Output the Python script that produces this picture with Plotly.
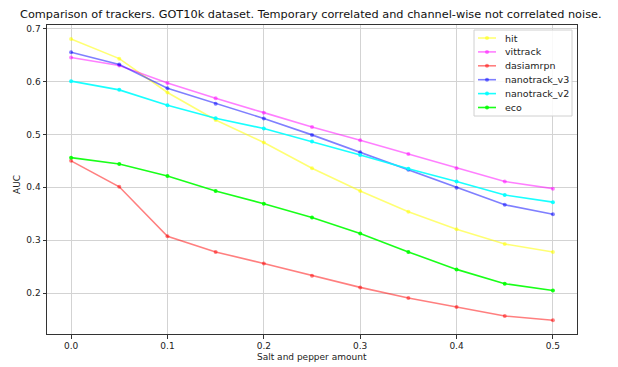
import plotly.graph_objects as go

x_vals = [0.0, 0.05, 0.1, 0.15, 0.2, 0.25, 0.3, 0.35, 0.4, 0.45, 0.5]

hit = [0.680, 0.643, 0.579, 0.527, 0.4845, 0.436, 0.393, 0.354, 0.321, 0.293, 0.278]
vittrack = [0.645, 0.630, 0.597, 0.568, 0.541, 0.514, 0.489, 0.463, 0.436, 0.411, 0.3975]
dasiamrpn = [0.450, 0.401, 0.3075, 0.278, 0.256, 0.233, 0.211, 0.191, 0.174, 0.157, 0.149]
nanotrack_v3 = [0.655, 0.632, 0.587, 0.558, 0.530, 0.499, 0.466, 0.433, 0.399, 0.367, 0.349]
nanotrack_v2 = [0.6005, 0.584, 0.555, 0.5305, 0.511, 0.4865, 0.461, 0.435, 0.411, 0.3855, 0.372]
eco = [0.456, 0.444, 0.4215, 0.393, 0.369, 0.343, 0.313, 0.278, 0.245, 0.218, 0.205]

series = [
    ("hit", hit, "rgba(255,255,0,0.55)"),
    ("vittrack", vittrack, "rgba(255,0,255,0.5)"),
    ("dasiamrpn", dasiamrpn, "rgba(255,0,0,0.5)"),
    ("nanotrack_v3", nanotrack_v3, "rgba(0,0,255,0.5)"),
    ("nanotrack_v2", nanotrack_v2, "rgba(0,255,255,0.9)"),
    ("eco", eco, "rgba(0,255,0,0.9)"),
]

title_text = "Comparison of trackers. GOT10k dataset. Temporary correlated and channel-wise not correlated noise."
x_title = "Salt and pepper amount"
y_title = "AUC"

# page body has an 8px margin; size the figure to fill the rest of the window
OFF = 8
W, H = 618 - OFF, 367 - OFF
L, R, T, B = 47 - OFF, 41, 25 - OFF, 33
PW, PH = W - L - R, H - T - B


def px_to_paper(px, py):
    # px, py are window pixel coordinates
    return (px - OFF - L) / PW, (H - B - (py - OFF)) / PH


fig = go.Figure()
for name, vals, col in series:
    fig.add_trace(go.Scatter(
        x=x_vals, y=vals, name=name, mode="lines+markers",
        line=dict(color=col, width=1.6),
        marker=dict(color=col, size=4),
        showlegend=False,
    ))

font = "DejaVu Sans, sans-serif"

shapes = []
annotations = []

# title and axis titles
tx_, ty_ = px_to_paper(311, 15)
annotations.append(dict(text=title_text, xref="paper", yref="paper", x=tx_, y=ty_,
                        xanchor="center", yanchor="middle", showarrow=False,
                        font=dict(family=font, size=11.3, color="#111")))
ax_, ay_ = px_to_paper(312, 357)
annotations.append(dict(text=x_title, xref="paper", yref="paper", x=ax_, y=ay_,
                        xanchor="center", yanchor="middle", showarrow=False,
                        font=dict(family=font, size=9, color="#222")))
bx_, by_ = px_to_paper(17, 185)
annotations.append(dict(text=y_title, xref="paper", yref="paper", x=bx_, y=by_, textangle=-90,
                        xanchor="center", yanchor="middle", showarrow=False,
                        font=dict(family=font, size=9, color="#222")))

# compact matplotlib-style legend box
bx0, by0 = px_to_paper(474, 30)
bx1, by1 = px_to_paper(572, 116)
shapes.append(dict(type="rect", xref="paper", yref="paper", x0=bx0, y0=by1, x1=bx1, y1=by0,
                   line=dict(color="#d0d0d0", width=1), fillcolor="rgba(255,255,255,0.85)", layer="above"))
for i, (name, vals, col) in enumerate(series):
    ry = 38 + i * 13.9
    lx0, ly = px_to_paper(478, ry)
    lx1, _ = px_to_paper(496, ry)
    mx, _ = px_to_paper(487, ry)
    tx, _ = px_to_paper(503, ry)
    shapes.append(dict(type="line", xref="paper", yref="paper", x0=lx0, x1=lx1, y0=ly, y1=ly,
                       line=dict(color=col, width=1.6), layer="above"))
    shapes.append(dict(type="circle", xref="paper", yref="paper",
                       x0=mx - 2 / PW, x1=mx + 2 / PW, y0=ly - 2 / PH, y1=ly + 2 / PH,
                       line=dict(width=0), fillcolor=col, layer="above"))
    annotations.append(dict(text=name, xref="paper", yref="paper", x=tx, y=ly,
                            xanchor="left", yanchor="middle", showarrow=False,
                            font=dict(family=font, size=9.5, color="#222")))

fig.update_layout(
    width=W, height=H,
    margin=dict(l=L, r=R, t=T, b=B, autoexpand=False),
    paper_bgcolor="white", plot_bgcolor="white",
    font=dict(family=font, size=9, color="#222"),
    showlegend=False,
    shapes=shapes,
    annotations=annotations,
    xaxis=dict(range=[-0.025, 0.525], tickvals=[0.0, 0.1, 0.2, 0.3, 0.4, 0.5],
               ticktext=["0.0", "0.1", "0.2", "0.3", "0.4", "0.5"],
               showgrid=True, gridcolor="#d3d3d3", gridwidth=1,
               showline=True, linecolor="#333", linewidth=1, mirror=True,
               ticks="outside", ticklen=3.5, tickcolor="#333", zeroline=False,
               automargin=False),
    yaxis=dict(range=[0.123, 0.7065], tickvals=[0.2, 0.3, 0.4, 0.5, 0.6, 0.7],
               ticktext=["0.2", "0.3", "0.4", "0.5", "0.6", "0.7"],
               showgrid=True, gridcolor="#d3d3d3", gridwidth=1,
               showline=True, linecolor="#333", linewidth=1, mirror=True,
               ticks="outside", ticklen=3.5, tickcolor="#333", zeroline=False,
               automargin=False),
)

fig.write_html("out.html")
